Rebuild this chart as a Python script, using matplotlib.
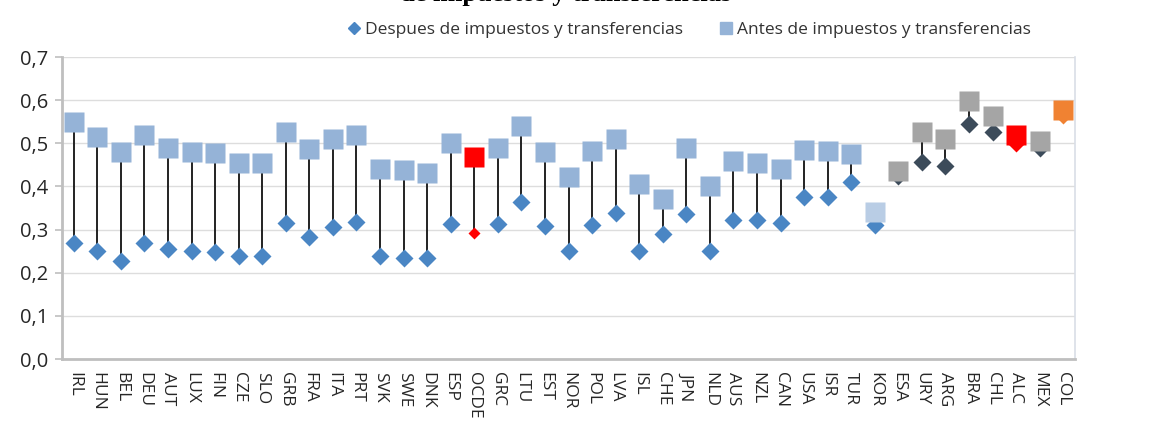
#!/usr/bin/env python3
# Gini antes / despues de impuestos y transferencias - dumbbell chart

import matplotlib
matplotlib.use("Agg")
import matplotlib.pyplot as plt
from matplotlib.lines import Line2D

# -------------------------
# Data
# -------------------------
paises = ["IRL", "HUN", "BEL", "DEU", "AUT", "LUX", "FIN", "CZE", "SLO", "GRB",
          "FRA", "ITA", "PRT", "SVK", "SWE", "DNK", "ESP", "OCDE", "GRC", "LTU",
          "EST", "NOR", "POL", "LVA", "ISL", "CHE", "JPN", "NLD", "AUS", "NZL",
          "CAN", "USA", "ISR", "TUR", "KOR", "ESA", "URY", "ARG", "BRA", "CHL",
          "ALC", "MEX", "COL"]

antes = [0.550, 0.515, 0.480, 0.520, 0.490, 0.480, 0.478, 0.455, 0.455, 0.525,
         0.487, 0.510, 0.520, 0.440, 0.437, 0.432, 0.500, 0.468, 0.490, 0.540,
         0.480, 0.423, 0.483, 0.510, 0.405, 0.370, 0.490, 0.400, 0.460, 0.455,
         0.440, 0.485, 0.482, 0.475, 0.340, 0.436, 0.527, 0.510, 0.598, 0.563,
         0.520, 0.505, 0.578]

despues = [0.270, 0.250, 0.226, 0.270, 0.256, 0.250, 0.248, 0.239, 0.239, 0.315,
           0.283, 0.307, 0.317, 0.238, 0.235, 0.235, 0.312, 0.292, 0.313, 0.365,
           0.308, 0.250, 0.310, 0.338, 0.250, 0.290, 0.335, 0.250, 0.323, 0.323,
           0.316, 0.376, 0.376, 0.410, 0.310, 0.425, 0.457, 0.447, 0.545, 0.527,
           0.500, 0.490, 0.565]

y_ticks = [0.0, 0.1, 0.2, 0.3, 0.4, 0.5, 0.6, 0.7]

# -------------------------
# Colours per group
# -------------------------
AZUL_SQ = "#95B3D7"
AZUL_D = "#4A86C4"
GRIS_SQ = "#A5A5A5"
GRIS_D = "#3C4B5A"
ROJO = "#FF0000"
NARANJA = "#F08232"
latam = {"ESA", "URY", "ARG", "BRA", "CHL", "MEX"}


def colores(p):
    if p in ("OCDE", "ALC"):
        return ROJO, ROJO
    if p == "COL":
        return NARANJA, NARANJA
    if p == "KOR":
        return "#B9CDE5", AZUL_D
    if p in latam:
        return GRIS_SQ, GRIS_D
    return AZUL_SQ, AZUL_D


plt.rcParams["font.family"] = ["Open Sans", "DejaVu Sans"]

fig = plt.figure(figsize=(11.53, 4.30), dpi=100)
ax = fig.add_axes([62 / 1153, 1 - 359 / 430, (1075 - 62) / 1153, (359 - 57) / 430])

x = list(range(len(paises)))

# stems
ax.vlines(x, despues, antes, color="#222222", linewidth=1.4, zorder=2)

# despues (diamonds), then antes (squares) on top
for i, p in enumerate(paises):
    c_sq, c_d = colores(p)
    ms_d = 6 if p == "OCDE" else 9.5
    ax.plot(i, despues[i], marker="D", markersize=ms_d, color=c_d,
            markeredgecolor="none", linestyle="none", zorder=3)
    ax.plot(i, antes[i], marker="s", markersize=14, color=c_sq,
            markeredgecolor="none", linestyle="none", zorder=4)

ax.set_xlim(-0.5, len(paises) - 0.5)
ax.set_ylim(0, 0.7)
ax.set_yticks(y_ticks)
ax.set_yticklabels([f"{v:.1f}".replace(".", ",") for v in y_ticks],
                   fontsize=14.5, color="#262626")
ax.set_xticks(x)
ax.set_xticklabels(paises, rotation=-90, fontsize=12.5, color="#262626")
ax.tick_params(axis="x", length=0, pad=9)
ax.tick_params(axis="y", length=5, width=1.2, color="#BFBFBF", pad=5)

ax.grid(axis="y", color="#DDDDDD", linewidth=1)
ax.set_axisbelow(True)
ax.spines["top"].set_visible(False)
ax.spines["right"].set_color("#D9DEE6")
ax.spines["right"].set_linewidth(1.2)
ax.spines["left"].set_color("#BFBFBF")
ax.spines["left"].set_linewidth(2)
ax.spines["bottom"].set_color("#BFBFBF")
ax.spines["bottom"].set_linewidth(2)

# legend
handles = [
    Line2D([], [], marker="D", markersize=6, color=AZUL_D, linestyle="none"),
    Line2D([], [], marker="s", markersize=9, color=AZUL_SQ, linestyle="none"),
]
fig.legend(handles,
           ["Despues de impuestos y transferencias", "Antes de impuestos y transferencias"],
           loc="center", bbox_to_anchor=(688 / 1153, 1 - 30 / 430), ncol=2,
           frameon=False, fontsize=12.5, handletextpad=0.1, columnspacing=2.0,
           handlelength=1.0, labelcolor="#333333")

# title (cropped at the top in the original)
fig.text(400 / 1153, 1 - 1.5 / 430, "de impuestos y transferencias",
         ha="left", va="baseline", fontsize=19, fontweight="bold",
         family="Liberation Serif")

fig.savefig("out.png", dpi=100)
